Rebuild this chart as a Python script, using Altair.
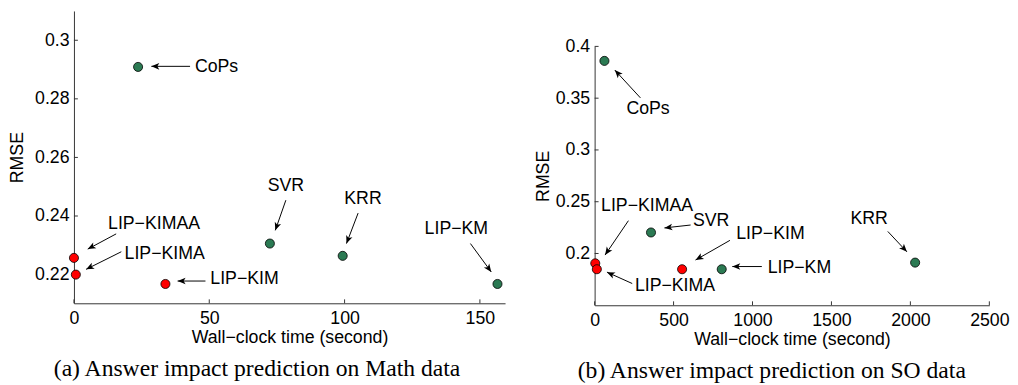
import math
import altair as alt
import pandas as pd

FONT = "Liberation Sans"
SERIF = "Liberation Serif"
GREEN = "#2b7a53"
RED = "#ff0000"
FS = 18

# ---------- panel (a): Math data ----------
a_methods = ["CoPs", "SVR", "KRR", "LIP−KM", "LIP−KIMAA", "LIP−KIMA", "LIP−KIM"]
a_time = [23.7, 72.4, 99.3, 156.5, 0.0, 0.7, 33.8]
a_rmse = [0.2909, 0.2306, 0.2264, 0.2168, 0.2257, 0.2200, 0.2168]
a_group = ["baseline", "baseline", "baseline", "baseline", "LIP", "LIP", "LIP"]

a_text_x = [44.7, 78.3, 106.8, 141.3, 12.6, 18.7, 50.4]
a_text_y = [0.2910, 0.2502, 0.2457, 0.2356, 0.2374, 0.2270, 0.2183]
a_align = ["left", "center", "center", "center", "left", "left", "left"]
a_tail_x = [42.9, 78.3, 105.0, 146.5, 15.6, 17.5, 48.6]
a_tail_y = [0.2911, 0.2454, 0.2410, 0.2306, 0.2339, 0.2278, 0.2178]
a_head_x = [28.6, 74.4, 100.7, 154.2, 5.1, 4.5, 38.3]
a_head_y = [0.2911, 0.2351, 0.2306, 0.2209, 0.2287, 0.2218, 0.2178]
a_xticks = [0, 50, 100, 150]
a_yticks = [0.22, 0.24, 0.26, 0.28, 0.30]

# ---------- panel (b): SO data ----------
b_methods = ["CoPs", "SVR", "KRR", "LIP−KM", "LIP−KIMAA", "LIP−KIMA", "LIP−KIM"]
b_time = [62, 357, 2030, 805, 4, 14, 554]
b_rmse = [0.3860, 0.2203, 0.1912, 0.1848, 0.1905, 0.1848, 0.1848]
b_group = ["baseline", "baseline", "baseline", "baseline", "LIP", "LIP", "LIP"]

b_text_x = [338.5, 623, 1739, 1096, 41, 255, 897]
b_text_y = [0.3392, 0.2310, 0.2332, 0.1864, 0.2459, 0.1684, 0.2184]
b_align = ["center", "left", "center", "left", "left", "left", "left"]
b_tail_x = [290, 608, 1857, 1059, 214, 238, 857]
b_tail_y = [0.3503, 0.2275, 0.2213, 0.1874, 0.2317, 0.1710, 0.2127]
b_head_x = [128, 442, 1978, 872, 66, 78, 639]
b_head_y = [0.3771, 0.2247, 0.2016, 0.1874, 0.1985, 0.1820, 0.1937]
b_xticks = [0, 500, 1000, 1500, 2000, 2500]
b_yticks = [0.20, 0.25, 0.30, 0.35, 0.40]

ARROW = "M0,0L0.75,1.8L0,1.35L-0.75,1.8Z"


def panel(methods, times, rmses, groups, tx, ty, al, xt, yt, xh, yh,
          xdom, ydom, xticks, yticks, w, h, caption, ytp):
    sx = w / (xdom[1] - xdom[0])
    sy = h / (ydom[1] - ydom[0])
    pts = pd.DataFrame(dict(method=methods, t=times, r=rmses, g=groups))
    angs = [math.degrees(math.atan2((x2 - x1) * sx, (y2 - y1) * sy)) % 360
            for x1, y1, x2, y2 in zip(xt, yt, xh, yh)]
    ann = pd.DataFrame(dict(label=methods, tx=tx, ty=ty, al=al, xt=xt, yt=yt,
                            xh=xh, yh=yh, ang=angs))

    xscale = alt.Scale(domain=xdom, nice=False, zero=False)
    yscale = alt.Scale(domain=ydom, nice=False, zero=False)
    xaxis = alt.Axis(title="Wall−clock time (second)", values=xticks, format="d",
                     grid=False, ticks=False, tickSize=0, domainColor="#333",
                     labelFont=FONT, labelFontSize=FS, labelColor="black",
                     titleFont=FONT, titleFontSize=FS, titleFontWeight="normal",
                     titleColor="black", labelPadding=7, titlePadding=1,
                     labelFlush=False, labelOverlap=False)
    yaxis = alt.Axis(title="RMSE", values=yticks, format=".2~f",
                     grid=False, ticks=False, tickSize=0, domainColor="#333",
                     labelFont=FONT, labelFontSize=FS, labelColor="black",
                     titleFont=FONT, titleFontSize=FS, titleFontWeight="normal",
                     titleColor="black", labelPadding=5, titlePadding=ytp,
                     labelFlush=False, labelOverlap=False)

    def X(f):
        return alt.X(f, type="quantitative", scale=xscale, axis=xaxis)

    def Y(f):
        return alt.Y(f, type="quantitative", scale=yscale, axis=yaxis)

    base = alt.Chart(ann)
    lines = base.mark_rule(color="black", strokeWidth=1).encode(
        x=X("xt"), y=Y("yt"), x2="xh", y2="yh")
    heads = base.mark_point(shape=ARROW, filled=True, color="black", size=81,
                            opacity=1).encode(
        x=X("xh"), y=Y("yh"), angle=alt.Angle("ang:Q", scale=None))
    t_left = base.transform_filter(alt.datum.al == "left").mark_text(
        align="left", baseline="middle", font=FONT, fontSize=FS, color="black").encode(
        x=X("tx"), y=Y("ty"), text="label:N")
    t_center = base.transform_filter(alt.datum.al == "center").mark_text(
        align="center", baseline="middle", font=FONT, fontSize=FS, color="black").encode(
        x=X("tx"), y=Y("ty"), text="label:N")

    dots = alt.Chart(pts).mark_point(filled=True, size=85, opacity=1, stroke="black",
                                     strokeWidth=0.8).encode(
        x=X("t"), y=Y("r"),
        fill=alt.Fill("g:N", scale=alt.Scale(domain=["baseline", "LIP"],
                                             range=[GREEN, RED]), legend=None))

    ytk = alt.Chart(pd.DataFrame({"v": yticks})).mark_rule(color="#333").encode(
        y=Y("v"), x=alt.value(0), x2=alt.value(4))
    xtk = alt.Chart(pd.DataFrame({"v": xticks})).mark_rule(color="#333").encode(
        x=X("v"), y=alt.value(h), y2=alt.value(h - 4))

    return alt.layer(ytk, xtk, lines, heads, t_left, t_center, dots).properties(
        width=w, height=h,
        title=alt.TitleParams(caption, orient="bottom", font=SERIF, fontSize=24,
                              fontWeight="normal", color="black", anchor="middle",
                              frame="bounds", offset=11))


left = panel(a_methods, a_time, a_rmse, a_group, a_text_x, a_text_y, a_align,
             a_tail_x, a_tail_y, a_head_x, a_head_y,
             [0, 159.3], [0.2102, 0.31], a_xticks, a_yticks, 438, 297,
             "(a)  Answer impact prediction on Math data", 8)
right = panel(b_methods, b_time, b_rmse, b_group, b_text_x, b_text_y, b_align,
              b_tail_x, b_tail_y, b_head_x, b_head_y,
              [0, 2500], [0.15, 0.40], b_xticks, b_yticks, 401, 263,
              "(b)  Answer impact prediction on SO data", 3)

spacer = alt.Chart(pd.DataFrame({"v": [0]})).mark_point(size=0, opacity=0).encode(
    x=alt.X("v:Q", axis=None), y=alt.Y("v:Q", axis=None)).properties(width=10, height=1)

chart = alt.hconcat(left, alt.vconcat(spacer, right, spacing=26), spacing=29).properties(
    padding=0).configure_view(stroke=None)

chart.save("out.html", embed_options={"renderer": "svg", "actions": False})
